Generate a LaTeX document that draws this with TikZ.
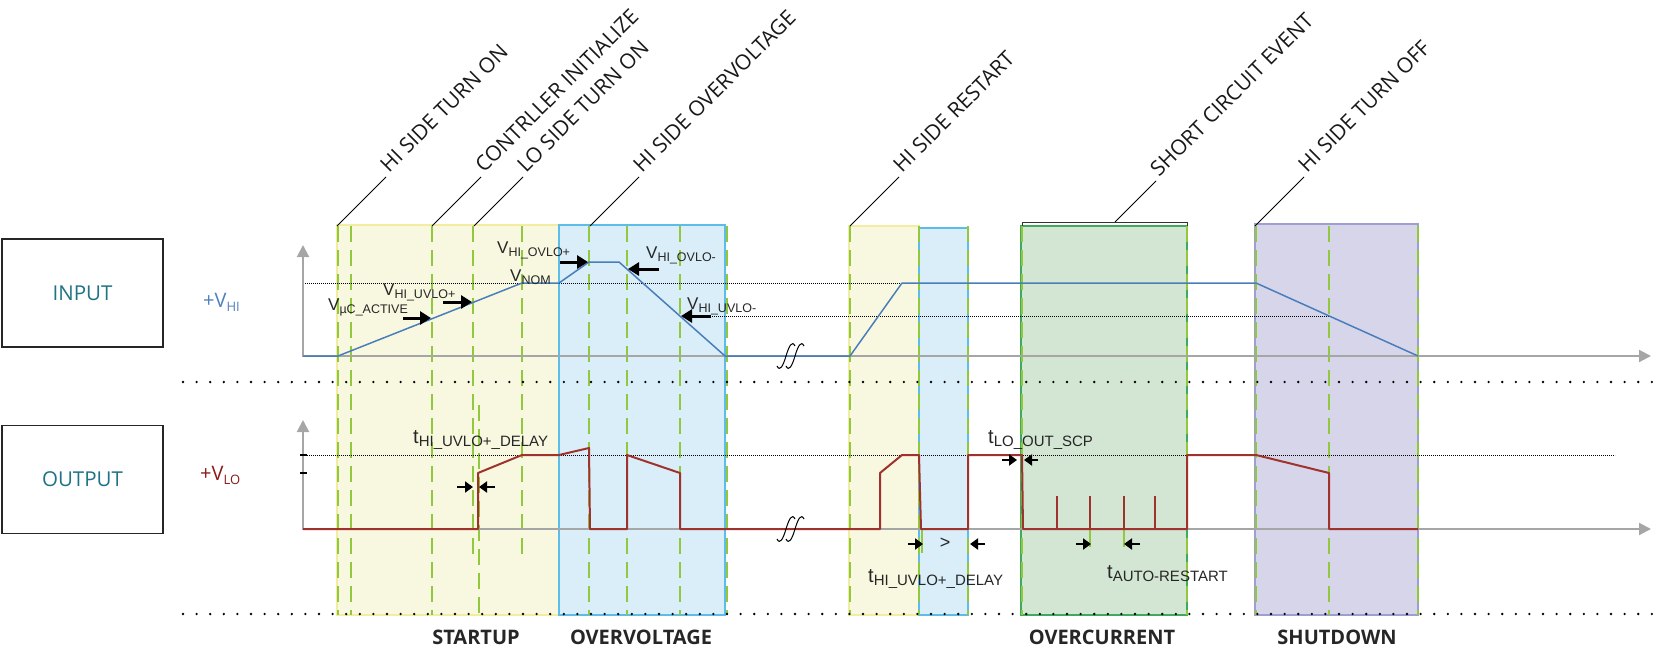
\documentclass[tikz,border=0pt]{standalone}
\usepackage{fontspec}
\setmainfont{Liberation Sans}
\newfontfamily\osfont{Open Sans}
\usetikzlibrary{arrows.meta}
\definecolor{ybox}{HTML}{F8F8E1}
\definecolor{yline}{HTML}{F2EDA0}
\definecolor{bbox}{HTML}{D9EEF8}
\definecolor{bline}{HTML}{5BBDE8}
\definecolor{gbox}{HTML}{D3E6D3}
\definecolor{gline}{HTML}{3DAA5F}
\definecolor{pbox}{HTML}{D6D5EA}
\definecolor{pline}{HTML}{9E9ED3}
\definecolor{dgreen}{HTML}{92C83E}
\definecolor{sigblue}{HTML}{4A7EBB}
\definecolor{sigred}{HTML}{A0322D}
\definecolor{axgray}{HTML}{A6A6A6}
\definecolor{tealtxt}{HTML}{1F7384}
\definecolor{hiblue}{HTML}{4F81BD}
\definecolor{lored}{HTML}{8B1A1A}
\newcommand\vsb[1]{\raisebox{-3pt}{\fontsize{12.5}{14}\selectfont #1}}
\newcommand\tsb[1]{\raisebox{-3.5pt}{\fontsize{15}{17}\selectfont #1}}
\newcommand\osb[1]{\raisebox{-4pt}{\fontsize{13}{15}\selectfont #1}}
\begin{document}
\begin{tikzpicture}[x=1pt,y=-1pt,
  phasebox/.style={line width=2pt},
  grn/.style={draw=dgreen,line width=2pt,dash pattern=on 16pt off 8pt},
  sigb/.style={draw=sigblue,line width=1.5pt,line join=round},
  sigr/.style={draw=sigred,line width=2pt,line join=round},
  axis/.style={draw=axgray,line width=2pt,-{Triangle[length=12pt,width=12pt]}},
  refdot/.style={draw=black,line width=0.8pt,dash pattern=on 0.8pt off 1.2pt},
  bigdots/.style={draw=black,line width=2.6pt,line cap=round,dash pattern=on 0pt off 13.6pt},
  varr/.style={draw=black,line width=3pt,-{Triangle[length=11pt,width=13pt]}},
  tarr/.style={draw=black,line width=2.5pt,-{Triangle[length=8pt,width=11pt]}},
  vl/.style={font=\fontsize{17}{20}\selectfont,text=black!85,anchor=base west,inner sep=0pt},
  tl/.style={font=\fontsize{20}{24}\selectfont,text=black!85,anchor=base west,inner sep=0pt},
  toplbl/.style={font=\osfont\fontsize{21}{25}\selectfont,text=black!90,rotate=45,anchor=base west,inner sep=0pt},
  botlbl/.style={font=\osfont\bfseries\fontsize{20}{24}\selectfont,text=black!85,inner sep=0pt},
  iobox/.style={draw=black!85,line width=1.5pt,minimum width=161pt,minimum height=108pt,text=tealtxt,font=\osfont\fontsize{20.5}{24}\selectfont},
  leader/.style={draw=black,line width=0.8pt},
  brk/.style={draw=black,line width=1pt}
]
\useasboundingbox (0,0) rectangle (1662,648);

% phase boxes
\draw[phasebox,fill=ybox,draw=yline] (337,225) rectangle (559,615);
\draw[phasebox,fill=bbox,draw=bline] (559,225) rectangle (725,615);
\draw[phasebox,fill=ybox,draw=yline] (849,226) rectangle (919,615);
\draw[phasebox,fill=bbox,draw=bline] (919,228) rectangle (968,615);
\draw[phasebox,fill=gbox,draw=gline] (1021,226) rectangle (1187,615);
\draw[phasebox,fill=pbox,draw=pline] (1255,224) rectangle (1418,615);

% bracket over short circuit box
\draw[draw=black!80,line width=1pt] (1022,233) -- (1022,222) -- (1187,222) -- (1187,233);

% green dashed event lines
\foreach \x in {338,351,432,589,627,680,727,850,919,968,1022,1187,1256,1329,1418}
  \draw[grn] (\x,226) -- (\x,615);
\draw[grn] (473,226) -- (473,555);
\draw[grn] (522,226) -- (522,555);
\draw[grn] (479,405) -- (479,615);
\draw[dgreen,line width=2pt] (922,529) -- (922,553);
\draw[dgreen,line width=2pt] (1090,529) -- (1090,547);
\draw[dgreen,line width=2pt] (1124,529) -- (1124,547);

% separator dots
\draw[bigdots] (183,382) -- (1652,382);
\draw[bigdots] (183,614) -- (1652,614);

% reference dotted lines
\draw[refdot] (305,283) -- (906,283);
\draw[refdot] (712,316) -- (1329,316);
\draw[refdot] (305,455) -- (1615,455);

% axes
\draw[axis] (303,357) -- (303,245);
\draw[axis] (303,356) -- (1651,356);
\draw[axis] (303,530) -- (303,420);
\draw[axis] (303,529) -- (1651,529);
\draw[black,line width=1.5pt] (300,455) -- (307,455);
\draw[black,line width=1.5pt] (300,473) -- (307,473);

% input signal
\draw[sigb] (303,356) -- (338,356) -- (522,283) -- (559,283) -- (589,262) -- (619,262)
  -- (725,356) -- (850,356) -- (902,283) -- (1256,283) -- (1418,356);

% output signal
\draw[sigr] (303,529) -- (478,529) -- (478,473) -- (522,455) -- (559,455) -- (589,448)
  -- (590,529) -- (627,529) -- (627,455) -- (680,473) -- (680,529) -- (880,529)
  -- (880,473) -- (902,455) -- (919,455) -- (921,529) -- (968,529) -- (968,455)
  -- (1022,455) -- (1023,529) -- (1187,529) -- (1187,455) -- (1256,455) -- (1329,473)
  -- (1329,529) -- (1418,529);
\foreach \x in {1057,1090,1124,1155}
  \draw[sigred,line width=1.5pt] (\x,529) -- (\x,496);

% break symbols
\foreach \y in {356,529}{
  \foreach \x in {786,795}{
    \draw[brk] (\x-9,\y+10) .. controls (\x-6,\y+16) and (\x-3,\y+10) .. (\x,\y)
      .. controls (\x+3,\y-10) and (\x+6,\y-16) .. (\x+9,\y-10);
  }
}

% level labels and arrows (input)
\node[vl] (vuc) at (328,310) {V\vsb{µC\_ACTIVE}};
\node[vl] (vuvp) at (383,295) {V\vsb{HI\_UVLO+}};
\node[vl] (vnom) at (510,281) {V\vsb{NOM}};
\node[vl] (vovp) at (497,253) {V\vsb{HI\_OVLO+}};
\node[vl] (vovm) at (646,258) {V\vsb{HI\_OVLO-}};
\node[vl] (vuvm) at (687,309) {V\vsb{HI\_UVLO-}};
\draw[varr] (403,318) -- (431,318);
\draw[varr] (443,302) -- (472,302);
\draw[varr] (560,262) -- (588,262);
\draw[varr] (659,269) -- (628,269);
\draw[varr] (711,316) -- (681,316);

% timing labels and arrows (output)
\node[tl] (tuv1) at (413,443) {t\tsb{HI\_UVLO+\_DELAY}};
\node[tl] (tscp) at (988,443) {t\tsb{LO\_OUT\_SCP}};
\node[tl] (tuv2) at (868,582) {t\tsb{HI\_UVLO+\_DELAY}};
\node[tl] (tar) at (1107,578) {t\tsb{AUTO-RESTART}};
\node[font=\fontsize{18}{20}\selectfont,text=black!85] (gt) at (945,543) {>};
\draw[tarr] (457,487) -- (473,487);
\draw[tarr] (495,487) -- (479,487);
\draw[tarr] (1002,460) -- (1017,460);
\draw[tarr] (1038,460) -- (1024,460);
\draw[tarr] (908,544) -- (923,544);
\draw[tarr] (985,544) -- (970,544);
\draw[tarr] (1076,544) -- (1091,544);
\draw[tarr] (1140,544) -- (1124,544);

% input / output boxes
\node[iobox] (inbox) at (82.5,293) {INPUT};
\node[iobox] (outbox) at (82.5,479.5) {OUTPUT};
\node[anchor=base west,inner sep=0pt,text=hiblue,font=\osfont\fontsize{20}{24}\selectfont] (vhi) at (203,307) {+V\osb{HI}};
\node[anchor=base west,inner sep=0pt,text=lored,font=\osfont\fontsize{20}{24}\selectfont] (vlo) at (200,480) {+V\osb{LO}};

% event labels with leaders
\coordinate (s1) at (337,226); \coordinate (e1) at (386,177);
\coordinate (s2) at (432,226); \coordinate (e2) at (481,177);
\coordinate (s3) at (474,226); \coordinate (e3) at (523,177);
\coordinate (s4) at (590,226); \coordinate (e4) at (639,177);
\coordinate (s5) at (850,226); \coordinate (e5) at (899,177);
\coordinate (s6) at (1115,222); \coordinate (e6) at (1156,181);
\coordinate (s7) at (1255,226); \coordinate (e7) at (1304,177);
\node[toplbl] (l1) at (389,174) {HI SIDE TURN ON};
\node[toplbl] (l2) at (484,174) {CONTRLLER INITIALIZE};
\node[toplbl] (l3) at (526,174) {LO SIDE TURN ON};
\node[toplbl] (l4) at (642,174) {HI SIDE OVERVOLTAGE};
\node[toplbl] (l5) at (902,174) {HI SIDE RESTART};
\node[toplbl] (l6) at (1159,178) {SHORT CIRCUIT EVENT};
\node[toplbl] (l7) at (1307,174) {HI SIDE TURN OFF};
\foreach \i in {1,...,7} \draw[leader] (s\i) -- (e\i);

% phase names
\node[botlbl] (pst) at (476,637) {STARTUP};
\node[botlbl] (pov) at (641,637) {OVERVOLTAGE};
\node[botlbl] (poc) at (1102,637) {OVERCURRENT};
\node[botlbl] (psd) at (1337,637) {SHUTDOWN};
\end{tikzpicture}
\end{document}
